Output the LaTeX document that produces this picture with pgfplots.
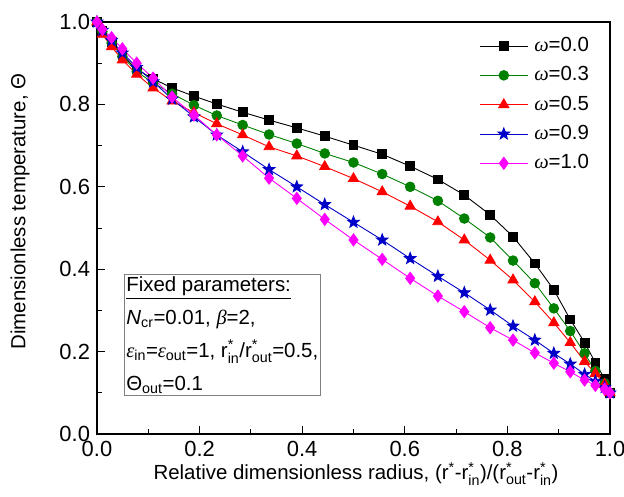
\documentclass[border=0pt]{standalone}
\usepackage{fontspec}
\setmainfont{Liberation Sans}
\newfontfamily\gk{Liberation Serif}
\usepackage{amsmath}
\usepackage{pgfplots}
\pgfplotsset{compat=1.18}

\definecolor{cgreen}{RGB}{0,128,0}
\definecolor{cred}{RGB}{255,0,0}
\definecolor{cblue}{RGB}{0,0,200}
\definecolor{cmag}{RGB}{255,0,255}

\pgfdeclareplotmark{fstar}{%
  \pgfpathmoveto{\pgfpointpolar{90}{\pgfplotmarksize}}%
  \pgfpathlineto{\pgfpointpolar{126}{0.42\pgfplotmarksize}}%
  \pgfpathlineto{\pgfpointpolar{162}{\pgfplotmarksize}}%
  \pgfpathlineto{\pgfpointpolar{198}{0.42\pgfplotmarksize}}%
  \pgfpathlineto{\pgfpointpolar{234}{\pgfplotmarksize}}%
  \pgfpathlineto{\pgfpointpolar{270}{0.42\pgfplotmarksize}}%
  \pgfpathlineto{\pgfpointpolar{306}{\pgfplotmarksize}}%
  \pgfpathlineto{\pgfpointpolar{342}{0.42\pgfplotmarksize}}%
  \pgfpathlineto{\pgfpointpolar{18}{\pgfplotmarksize}}%
  \pgfpathlineto{\pgfpointpolar{54}{0.42\pgfplotmarksize}}%
  \pgfpathclose
  \pgfusepathqfillstroke}

\newcommand{\gr}[1]{{\gk\itshape #1}}
\newcommand{\rr}[1]{r$^{\text{*}}_{\text{#1}}$}

\pgfplotstableread{
x w00 w03 w05 w09 w10
0 1.0 1.0 1.0 1.0 1.0
0.0105 0.978 0.977 0.970 0.980 0.982
0.0285 0.952 0.949 0.940 0.955 0.962
0.0495 0.920 0.916 0.908 0.925 0.935
0.0775 0.885 0.880 0.873 0.890 0.900
0.1095 0.862 0.852 0.840 0.855 0.864
0.1465 0.840 0.826 0.808 0.813 0.818
0.189 0.820 0.798 0.780 0.770 0.774
0.2335 0.801 0.773 0.753 0.726 0.726
0.284 0.781 0.750 0.726 0.685 0.675
0.3355 0.762 0.727 0.697 0.642 0.621
0.3895 0.743 0.705 0.675 0.600 0.572
0.444 0.723 0.681 0.649 0.557 0.521
0.5 0.701 0.659 0.620 0.514 0.471
0.556 0.679 0.631 0.588 0.471 0.424
0.6105 0.650 0.600 0.553 0.426 0.378
0.6645 0.618 0.566 0.515 0.383 0.335
0.716 0.580 0.523 0.471 0.343 0.297
0.7665 0.532 0.477 0.422 0.301 0.258
0.811 0.479 0.421 0.374 0.262 0.228
0.8535 0.414 0.366 0.321 0.228 0.197
0.8905 0.350 0.305 0.270 0.196 0.172
0.9225 0.278 0.250 0.222 0.170 0.151
0.9505 0.222 0.196 0.176 0.145 0.131
0.9715 0.173 0.153 0.147 0.128 0.118
0.9895 0.134 0.123 0.121 0.113 0.109
1 0.100 0.100 0.100 0.100 0.100
}\data

\begin{document}
\fontsize{20.5}{24}\selectfont
\begin{tikzpicture}
\begin{axis}[
  scale only axis,
  width=513bp, height=412bp,
  xmin=0, xmax=1, ymin=0, ymax=1,
  xtick={0,0.2,...,1.0}, ytick={0,0.2,...,1.0},
  minor x tick num=1, minor y tick num=1,
  xtick pos=bottom, ytick pos=left,
  tick align=inside,
  major tick length=8bp, minor tick length=5bp,
  axis line style={line width=1.3bp},
  every tick/.style={line width=1bp, black},
  x tick label style={/pgf/number format/.cd, fixed, fixed zerofill, precision=1, assume math mode=true},
  y tick label style={/pgf/number format/.cd, fixed, fixed zerofill, precision=1, assume math mode=true},
  tick label style={font=\fontsize{22}{25}\selectfont},
  label style={font=\fontsize{20.5}{24}\selectfont},
  xlabel={Relative dimensionless radius, (r$^{\text{*}}$-\rr{in})/(\rr{out}-\rr{in})},
  ylabel={Dimensionless temperature, Θ},
  xlabel style={at={(axis description cs:0.505,-0.097)}, anchor=center},
  ylabel style={at={(axis description cs:-0.15,0.54)}, anchor=center},
  clip=false,
  legend cell align=left,
  legend style={draw=none, fill=none, at={(axis description cs:0.745,0.968)}, anchor=north west,
    font=\fontsize{20.5}{24}\selectfont, row sep=8bp, inner sep=0pt},
  legend image code/.code={\draw[mark repeat=2, mark phase=2] plot coordinates {(0bp,0bp) (24bp,0bp) (48bp,0bp)};},
]
\addplot[black, line width=0.9bp, mark=square*, mark size=4.4bp, mark options={solid, fill=black}] table[x=x, y=w00] {\data};
\addlegendentry{\hspace{4bp}\gr{ω}=0.0}
\addplot[cgreen, line width=0.9bp, mark=*, mark size=4.8bp, mark options={solid, fill=cgreen}] table[x=x, y=w03] {\data};
\addlegendentry{\hspace{4bp}\gr{ω}=0.3}
\addplot[cred, line width=0.9bp, mark=triangle*, mark size=5.8bp, mark options={solid, fill=cred}] table[x=x, y=w05] {\data};
\addlegendentry{\hspace{4bp}\gr{ω}=0.5}
\addplot[cblue, line width=0.9bp, mark=fstar, mark size=6bp, mark options={solid, fill=cblue}] table[x=x, y=w09] {\data};
\addlegendentry{\hspace{4bp}\gr{ω}=0.9}
\addplot[cmag, line width=0.9bp, mark=diamond*, mark size=6bp, mark options={solid, fill=cmag}] table[x=x, y=w10] {\data};
\addlegendentry{\hspace{4bp}\gr{ω}=1.0}

\node[draw=gray, line width=0.8bp, anchor=north west, inner sep=2bp, align=left,
  font=\fontsize{20.5}{33}\selectfont] at (axis description cs:0.0526,0.388)
  {\underline{Fixed parameters:}\\
   \textit{N}$_{\text{cr}}$=0.01, \gr{β}=2,\\
   \gr{ε}$_{\text{in}}$=\gr{ε}$_{\text{out}}$=1, \rr{in}/\rr{out}=0.5,\\
   Θ$_{\text{out}}$=0.1};

\coordinate (bl) at (axis description cs:-0.189,-0.1505);
\coordinate (tr) at (axis description cs:1.0273,1.0534);
\end{axis}
\pgfresetboundingbox
\path[use as bounding box] (bl) rectangle (tr);
\end{tikzpicture}
\end{document}
